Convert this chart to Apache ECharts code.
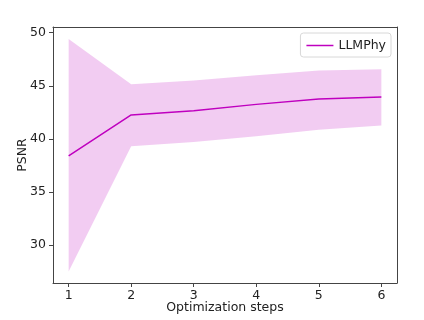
<!DOCTYPE html>
<html>
<head>
<meta charset="utf-8">
<script src="https://cdn.jsdelivr.net/npm/echarts@6/dist/echarts.min.js"></script>
<style>
  html, body { margin: 0; padding: 0; background: #fff; }
  #chart { width: 424px; height: 320px; }
</style>
</head>
<body>
<div id="chart"></div>
<script>
var steps = [1, 2, 3, 4, 5, 6];
var psnrMean = [38.4, 42.25, 42.65, 43.25, 43.75, 43.95];
var psnrUpper = [49.4, 45.15, 45.5, 46.0, 46.45, 46.55];
var psnrLower = [27.5, 39.3, 39.7, 40.25, 40.85, 41.25];
var yTicks = [30, 35, 40, 45, 50];

var lineColor = '#bf00bf';
var font = 'DejaVu Sans';

function pairs(xs, ys) {
    return xs.map(function (x, i) { return [x, ys[i]]; });
}

var chart = echarts.init(document.getElementById('chart'), null, { renderer: 'canvas' });

var frameAxisX = {
    type: 'value', position: 'top', min: 0.75, max: 6.25,
    axisLine: { lineStyle: { color: '#444', width: 1 } },
    axisTick: { show: false }, axisLabel: { show: false }, splitLine: { show: false }
};
var frameAxisY = {
    type: 'value', position: 'right', min: 26.42, max: 50.54,
    axisLine: { show: true, lineStyle: { color: '#444', width: 1 } },
    axisTick: { show: false }, axisLabel: { show: false }, splitLine: { show: false }
};

option = {
    animation: false,
    grid: { left: 53, right: 27, top: 27, bottom: 37, containLabel: false, outerBoundsMode: 'none' },
    legend: {
        right: 33, top: 33,
        data: [{ name: 'LLMPhy', icon: 'rect' }],
        itemWidth: 27, itemHeight: 1.5, itemGap: 8,
        borderColor: '#d8d8d8', borderWidth: 1, borderRadius: 3,
        padding: [6, 5, 5, 6],
        textStyle: { fontFamily: font, fontSize: 12.5, color: '#222' }
    },
    xAxis: [{
        type: 'value', min: 0.75, max: 6.25,
        name: 'Optimization steps', nameLocation: 'middle', nameGap: 18, nameMoveOverlap: false,
        nameTextStyle: { fontFamily: font, fontSize: 12.5, color: '#222' },
        axisLine: { lineStyle: { color: '#444', width: 1 } },
        axisTick: { show: true, length: 4, lineStyle: { color: '#444' }, customValues: steps },
        axisLabel: { fontFamily: font, fontSize: 12.5, color: '#222', margin: 6, customValues: steps },
        splitLine: { show: false }
    }, frameAxisX],
    yAxis: [{
        type: 'value', min: 26.42, max: 50.54,
        name: 'PSNR', nameLocation: 'middle', nameGap: 24, nameRotate: 90, nameMoveOverlap: false,
        nameTextStyle: { fontFamily: font, fontSize: 12.5, color: '#222' },
        axisLine: { show: true, lineStyle: { color: '#444', width: 1 } },
        axisTick: { show: true, length: 4, lineStyle: { color: '#444' }, customValues: yTicks },
        axisLabel: { fontFamily: font, fontSize: 12.5, color: '#222', margin: 7, customValues: yTicks },
        splitLine: { show: false }
    }, frameAxisY],
    series: [
        {
            // shaded band between lower and upper, drawn once as one polygon
            name: 'band', type: 'custom', silent: true,
            data: pairs(steps, psnrMean),
            renderItem: function (params, api) {
                if (params.dataIndex !== 0) return;
                var pts = [];
                for (var i = 0; i < steps.length; i++) pts.push(api.coord([steps[i], psnrUpper[i]]));
                for (var j = steps.length - 1; j >= 0; j--) pts.push(api.coord([steps[j], psnrLower[j]]));
                return {
                    type: 'polygon',
                    shape: { points: pts },
                    style: { fill: 'rgba(191,0,191,0.2)' }
                };
            },
            z: 1
        },
        {
            name: 'LLMPhy', type: 'line',
            data: pairs(steps, psnrMean),
            symbol: 'none', itemStyle: { color: lineColor },
            lineStyle: { color: lineColor, width: 1.5 },
            z: 3
        }
    ]
};
chart.setOption(option);
</script>
</body>
</html>
